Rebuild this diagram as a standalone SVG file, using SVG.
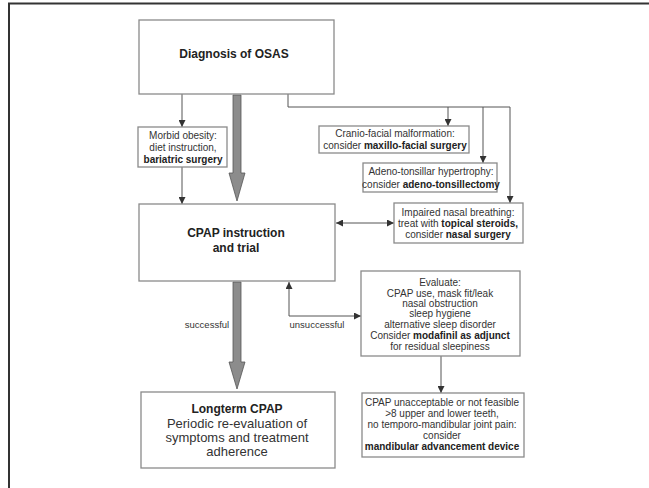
<svg xmlns="http://www.w3.org/2000/svg" width="649" height="488" viewBox="0 0 649 488">
<style>
.box{fill:#fff;stroke:#8a8a8a;stroke-width:1.3}
.t{font-family:"Liberation Sans",Arial,sans-serif;fill:#333;text-anchor:middle}
.s{font-size:10px}
.m{font-size:13px}
.h{font-size:12px;font-weight:bold;fill:#222}
.b{font-weight:bold;fill:#222}
.c{fill:none;stroke:#555;stroke-width:1}
.big{fill:#8c8c8c;stroke:#555;stroke-width:0.8}
</style>
<defs>
<marker id="ah" viewBox="0 0 8 8" refX="8" refY="4" markerWidth="7" markerHeight="7" markerUnits="userSpaceOnUse" orient="auto">
<path d="M0,0 L8,4 L0,8 z" fill="#333"/>
</marker>
<marker id="as" viewBox="0 0 8 8" refX="0" refY="4" markerWidth="7" markerHeight="7" markerUnits="userSpaceOnUse" orient="auto">
<path d="M8,0 L0,4 L8,8 z" fill="#333"/>
</marker>
</defs>
<rect width="649" height="488" fill="#fff"/>
<path d="M9,488 V3.5 H649" fill="none" stroke="#333" stroke-width="2"/>

<g id="connectors">
<path class="c" d="M182,94 V127" marker-end="url(#ah)"/>
<path class="c" d="M182,167 V204" marker-end="url(#ah)"/>
<path class="c" d="M288,94 V107 H510 V203" marker-end="url(#ah)"/>
<path class="c" d="M448,107 V126" marker-end="url(#ah)"/>
<path class="c" d="M483,107 V163" marker-end="url(#ah)"/>
<path class="c" d="M336,223 H394" marker-start="url(#as)" marker-end="url(#ah)"/>
<path class="c" d="M289,282 V316 H361" marker-start="url(#as)" marker-end="url(#ah)"/>
<path class="c" d="M441,356 V393" marker-end="url(#ah)"/>
<polygon class="big" points="233,95 241,95 241,173 245,173 237,201 229,173 233,173"/>
<polygon class="big" points="233,282 241,282 241,362 245,362 237,389 229,362 233,362"/>
<text class="t" x="207" y="328" font-size="9.5">successful</text>
<text class="t" x="317" y="328" font-size="9.5">unsuccessful</text>
</g>

<g id="diagnosis">
<rect class="box" x="139" y="20" width="195" height="74"/>
<text class="t h" x="234" y="58">Diagnosis of OSAS</text>
</g>

<g id="obesity">
<rect class="box" x="138" y="127" width="89" height="40"/>
<text class="t s" x="183" y="139">Morbid obesity:</text>
<text class="t s" x="183" y="151">diet instruction,</text>
<text class="t s b" x="183" y="163">bariatric surgery</text>
</g>

<g id="cranio">
<rect class="box" x="319" y="126" width="150" height="27"/>
<text class="t s" x="395" y="137">Cranio-facial malformation:</text>
<text class="t s" x="395" y="149">consider <tspan class="b">maxillo-facial surgery</tspan></text>
</g>

<g id="adeno">
<rect class="box" x="363" y="163" width="134" height="29"/>
<text class="t s" x="431" y="175">Adeno-tonsillar hypertrophy:</text>
<text class="t s" x="431" y="188">consider <tspan class="b">adeno-tonsillectomy</tspan></text>
</g>

<g id="nasal">
<rect class="box" x="394" y="203" width="129" height="40"/>
<text class="t s" x="458" y="216">Impaired nasal breathing:</text>
<text class="t s" x="458" y="227">treat with <tspan class="b">topical steroids,</tspan></text>
<text class="t s" x="458" y="238">consider <tspan class="b">nasal surgery</tspan></text>
</g>

<g id="cpap">
<rect class="box" x="139" y="204" width="196" height="77"/>
<text class="t h" x="236" y="237">CPAP instruction</text>
<text class="t h" x="236" y="252">and trial</text>
</g>

<g id="evaluate">
<rect class="box" x="361" y="271" width="159" height="85"/>
<text class="t s" x="440" y="286">Evaluate:</text>
<text class="t s" x="440" y="297">CPAP use, mask fit/leak</text>
<text class="t s" x="440" y="307">nasal obstruction</text>
<text class="t s" x="440" y="317">sleep hygiene</text>
<text class="t s" x="440" y="328">alternative sleep disorder</text>
<text class="t s" x="440" y="339">Consider <tspan class="b">modafinil as adjunct</tspan></text>
<text class="t s" x="440" y="350">for residual sleepiness</text>
</g>

<g id="longterm">
<rect class="box" x="141" y="392" width="194" height="76"/>
<text class="t h" x="237" y="413">Longterm CPAP</text>
<text class="t m" x="237" y="428">Periodic re-evaluation of</text>
<text class="t m" x="237" y="442">symptoms and treatment</text>
<text class="t m" x="237" y="456">adherence</text>
</g>

<g id="mandibular">
<rect class="box" x="362" y="393" width="162" height="64"/>
<text class="t s" x="442" y="406">CPAP unacceptable or not feasible</text>
<text class="t s" x="442" y="417">&gt;8 upper and lower teeth,</text>
<text class="t s" x="442" y="428">no temporo-mandibular joint pain:</text>
<text class="t s" x="442" y="439">consider</text>
<text class="t s b" x="442" y="450">mandibular advancement device</text>
</g>
</svg>
